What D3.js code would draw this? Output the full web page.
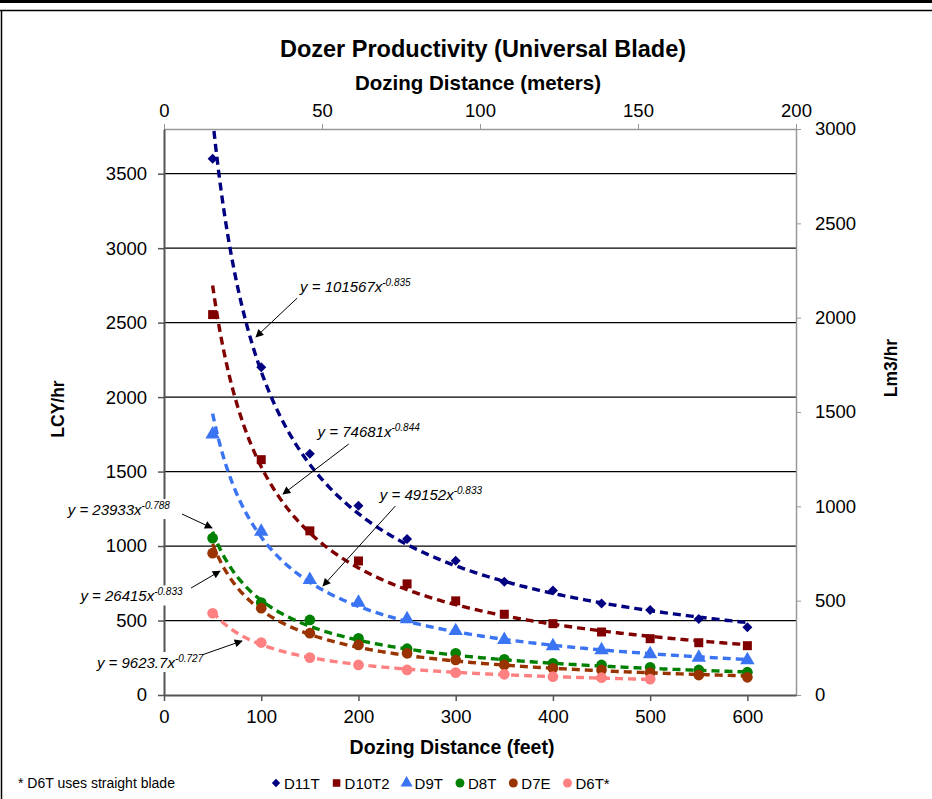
<!DOCTYPE html>
<html>
<head>
<meta charset="utf-8">
<script src="https://cdn.jsdelivr.net/npm/d3@7"></script>
<style>
  body { margin: 0; background: #fff; }
  svg { display: block; }
  text { font-family: "Liberation Sans", Arial, sans-serif; }
</style>
</head>
<body>
<script>
// distances (feet)
var feet = [50, 100, 150, 200, 250, 300, 350, 400, 450, 500, 550, 600];
var feetD6T = [50, 100, 150, 200, 250, 300, 350, 400, 450, 500];

// productivity, LCY/hr
var d11t  = [3600, 2200, 1620, 1270, 1048, 902, 760, 701, 614, 571, 511, 455];
var d10t2 = [2554, 1580, 1102, 900, 746, 632, 542, 479, 423, 378, 351, 331];
var d9t   = [1750, 1097, 773, 620, 509, 430, 370, 329, 302, 275, 251, 235];
var d8t   = [1053, 620, 504, 381, 311, 280, 240, 213, 202, 186, 168, 153];
var d7e   = [952, 583, 415, 336, 280, 235, 202, 179, 168, 150, 134, 119];
var d6t   = [549, 352, 251, 202, 168, 150, 139, 123, 116, 106];

var seriesNames = ["D11T", "D10T2", "D9T", "D8T", "D7E", "D6T*"];

// power trendlines shown on the chart: y = a * x^b
var fitA = [101567, 74681, 49152, 23933, 26415, 9623.7];
var fitB = [-0.835, -0.844, -0.833, -0.788, -0.833, -0.727];
var fitAText = ["101567", "74681", "49152", "23933", "26415", "9623.7"];
var fitBText = ["-0.835", "-0.844", "-0.833", "-0.788", "-0.833", "-0.727"];

var leftTicks = [0, 500, 1000, 1500, 2000, 2500, 3000, 3500];
var rightTicks = [0, 500, 1000, 1500, 2000, 2500, 3000];
var bottomTicks = [0, 100, 200, 300, 400, 500, 600];
var topTicks = [0, 50, 100, 150, 200];

var W = 932, H = 799;
var plot = { left: 164, right: 796, top: 129, bottom: 695 };

var colors = ["#000080", "#800000", "#3b74f2", "#008000", "#993300", "#ff8080"];
var symbols = ["diamond", "square", "triangle", "circle", "circle", "circle"];

var series = [
  { xs: feet, ys: d11t },
  { xs: feet, ys: d10t2 },
  { xs: feet, ys: d9t },
  { xs: feet, ys: d8t },
  { xs: feet, ys: d7e },
  { xs: feetD6T, ys: d6t }
].map(function(s, i) {
  s.name = seriesNames[i];
  s.color = colors[i];
  s.symbol = symbols[i];
  s.a = fitA[i];
  s.b = fitB[i];
  return s;
});

// label placement for equations, in data units (feet, LCY/hr)
var eqLabels = [
  { i: 0, at: [140, 2706], from: [137, 2665], to: [94.6, 2404] },
  { i: 1, at: [158, 1732], from: [190, 1685], to: [122.4, 1349] },
  { i: 2, at: [222, 1309], from: [238, 1269], to: [163.5, 732] },
  { i: 3, at: [-99, 1208], from: [18.5, 1215], to: [49.4, 1121] },
  { i: 4, at: [-86, 628], from: [27.8, 718], to: [57.6, 832] },
  { i: 5, at: [-69, 181], from: [39.1, 269], to: [80.2, 363] }
];

var x = d3.scaleLinear().domain([0, 650]).range([plot.left, plot.right]);
var xm = d3.scaleLinear().domain([0, 200]).range([plot.left, plot.right]);
var y = d3.scaleLinear().domain([0, 3800]).range([plot.bottom, plot.top]);
var yr = d3.scaleLinear().domain([0, 3000]).range([plot.bottom, plot.top]);

var svg = d3.select("body").append("svg")
  .attr("width", W)
  .attr("height", H);

var defs = svg.append("defs");
defs.append("clipPath").attr("id", "clip")
  .append("rect")
    .attr("x", plot.left)
    .attr("y", plot.top)
    .attr("width", plot.right - plot.left)
    .attr("height", plot.bottom - plot.top);
defs.append("marker")
  .attr("id", "arrow")
  .attr("viewBox", "0 0 10 10")
  .attr("refX", 9)
  .attr("refY", 5)
  .attr("markerWidth", 9)
  .attr("markerHeight", 8)
  .attr("markerUnits", "userSpaceOnUse")
  .attr("orient", "auto")
  .append("path")
    .attr("d", "M0,0 L10,5 L0,10 z")
    .attr("fill", "#000");

// frame
svg.append("rect").attr("x", 0).attr("y", 0).attr("width", W).attr("height", 3).attr("fill", "#000");
svg.append("line").attr("x1", 0).attr("x2", W).attr("y1", 10.5).attr("y2", 10.5)
  .attr("stroke", "#000").attr("stroke-width", 1.5);
svg.append("line").attr("x1", 1.5).attr("x2", 1.5).attr("y1", 10).attr("y2", H)
  .attr("stroke", "#000").attr("stroke-width", 1.5);

// titles
svg.append("text")
  .attr("x", 483).attr("y", 57)
  .attr("text-anchor", "middle")
  .attr("font-size", 23.5).attr("font-weight", "bold")
  .text("Dozer Productivity (Universal Blade)");

svg.append("text")
  .attr("x", 478).attr("y", 90)
  .attr("text-anchor", "middle")
  .attr("font-size", 20.5).attr("font-weight", "bold")
  .text("Dozing Distance (meters)");

svg.append("text")
  .attr("x", 452).attr("y", 754)
  .attr("text-anchor", "middle")
  .attr("font-size", 19.5).attr("font-weight", "bold")
  .text("Dozing Distance (feet)");

svg.append("text")
  .attr("transform", "translate(64,409) rotate(-90)")
  .attr("text-anchor", "middle")
  .attr("font-size", 17.5).attr("font-weight", "bold")
  .text("LCY/hr");

svg.append("text")
  .attr("transform", "translate(897,368) rotate(-90)")
  .attr("text-anchor", "middle")
  .attr("font-size", 17.5).attr("font-weight", "bold")
  .text("Lm3/hr");

// gridlines
svg.append("g")
  .selectAll("line")
  .data(leftTicks.filter(function(d) { return d > 0; }))
  .enter().append("line")
    .attr("x1", plot.left).attr("x2", plot.right)
    .attr("y1", function(d) { return y(d); })
    .attr("y2", function(d) { return y(d); })
    .attr("stroke", "#000")
    .attr("stroke-width", 1.3);

// axes
var fmt = d3.format("d");

function styleAxis(g, color, width, size) {
  g.selectAll(".domain").attr("stroke", color).attr("stroke-width", width);
  g.selectAll(".tick line").attr("stroke", color).attr("stroke-width", width > 1.6 ? 1.5 : 1);
  g.selectAll(".tick text")
    .attr("font-size", size)
    .attr("fill", "#000")
    .style("font-family", '"Liberation Sans", Arial, sans-serif');
}

var gTop = svg.append("g")
  .attr("transform", "translate(0," + plot.top + ")")
  .call(d3.axisTop(xm).tickValues(topTicks).tickFormat(fmt).tickSizeInner(5).tickSizeOuter(0).tickPadding(7));
styleAxis(gTop, "#999", 1.5, 18.5);

var gRight = svg.append("g")
  .attr("transform", "translate(" + plot.right + ",0)")
  .call(d3.axisRight(yr).tickValues(rightTicks).tickFormat(fmt).tickSizeInner(5).tickSizeOuter(0).tickPadding(14));
styleAxis(gRight, "#999", 1.5, 18.5);

var gLeft = svg.append("g")
  .attr("transform", "translate(" + plot.left + ",0)")
  .call(d3.axisLeft(y).tickValues(leftTicks).tickFormat(fmt).tickSizeInner(6).tickSizeOuter(0).tickPadding(11));
styleAxis(gLeft, "#555", 2, 18.5);

var gBottom = svg.append("g")
  .attr("transform", "translate(0," + plot.bottom + ")")
  .call(d3.axisBottom(x).tickValues(bottomTicks).tickFormat(fmt).tickSizeInner(6).tickSizeOuter(0).tickPadding(9));
styleAxis(gBottom, "#555", 2, 18.5);

// trendlines
var line = d3.line()
  .x(function(d) { return x(d[0]); })
  .y(function(d) { return y(d[1]); });

var trend = svg.append("g").attr("clip-path", "url(#clip)");
series.forEach(function(s) {
  var x0 = s.xs[0], x1 = s.xs[s.xs.length - 1];
  var pts = d3.range(x0, x1 + 0.001, 2).map(function(v) { return [v, s.a * Math.pow(v, s.b)]; });
  trend.append("path")
    .attr("d", line(pts))
    .attr("fill", "none")
    .attr("stroke", s.color)
    .attr("stroke-width", 3.4)
    .attr("stroke-dasharray", "8,5");
});

// markers
function symbolPath(kind, scale) {
  scale = scale || 1;
  if (kind === "diamond") return d3.symbol().type(d3.symbolSquare).size(50 * scale)();
  if (kind === "square") return d3.symbol().type(d3.symbolSquare).size(81 * scale)();
  if (kind === "triangle") return d3.symbol().type(d3.symbolTriangle).size(90 * scale)();
  return d3.symbol().type(d3.symbolCircle).size(90 * scale)();
}

series.forEach(function(s) {
  svg.append("g")
    .selectAll("path")
    .data(s.xs.map(function(v, j) { return [v, s.ys[j]]; }))
    .enter().append("path")
      .attr("d", symbolPath(s.symbol))
      .attr("transform", function(d) {
        return "translate(" + x(d[0]) + "," + y(d[1]) + ")" + (s.symbol === "diamond" ? " rotate(45)" : "");
      })
      .attr("fill", s.color);
});

// equation labels
var eqG = svg.append("g");
eqLabels.forEach(function(e) {
  var g = eqG.append("g");
  var bg = g.append("rect").attr("fill", "#fff");
  var t = g.append("text")
    .attr("x", x(e.at[0]))
    .attr("y", y(e.at[1]))
    .attr("font-size", 15)
    .attr("font-style", "italic")
    .attr("fill", "#000");
  t.append("tspan").text("y = " + fitAText[e.i] + "x");
  t.append("tspan").attr("dy", -6).attr("font-size", 10).text(fitBText[e.i]);
  var bb = t.node().getBBox();
  bg.attr("x", bb.x - 2).attr("y", bb.y - 1).attr("width", bb.width + 4).attr("height", bb.height + 2);
  eqG.append("line")
    .attr("x1", x(e.from[0])).attr("y1", y(e.from[1]))
    .attr("x2", x(e.to[0])).attr("y2", y(e.to[1]))
    .attr("stroke", "#000")
    .attr("stroke-width", 1)
    .attr("marker-end", "url(#arrow)");
});

// legend
var legend = svg.append("g").attr("transform", "translate(0,783)");
var lx = 276;
series.forEach(function(s) {
  legend.append("path")
    .attr("d", symbolPath(s.symbol, 0.7))
    .attr("transform", "translate(" + lx + ",0)" + (s.symbol === "diamond" ? " rotate(45)" : ""))
    .attr("fill", s.color);
  var t = legend.append("text")
    .attr("x", lx + 8)
    .attr("y", 5.5)
    .attr("font-size", 15)
    .text(s.name);
  lx = lx + 8 + t.node().getComputedTextLength() + 17;
});

svg.append("text")
  .attr("x", 18).attr("y", 788)
  .attr("font-size", 14)
  .text("* D6T uses straight blade");
</script>
</body>
</html>
